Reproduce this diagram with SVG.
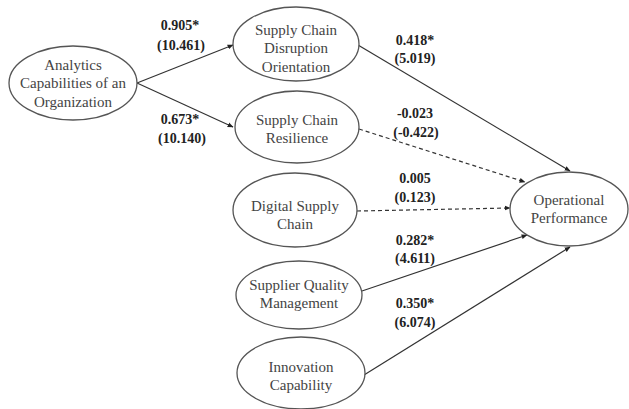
<svg xmlns="http://www.w3.org/2000/svg" width="629" height="409" viewBox="0 0 629 409">
<defs>
<style>
.node ellipse{fill:#fff;stroke:#555;stroke-width:1.3}
.node text{font-family:"Liberation Serif","Times New Roman",serif;font-size:15px;fill:#444;text-anchor:middle}
.edge{stroke:#333;stroke-width:1.2;fill:none;marker-end:url(#ah)}
.dash{stroke-dasharray:4,3}
.lbl{font-family:"Liberation Serif","Times New Roman",serif;font-size:14px;font-weight:bold;fill:#222;text-anchor:middle}
</style>
<marker id="ah" viewBox="0 0 10 10" refX="9" refY="5" markerWidth="6" markerHeight="6" markerUnits="userSpaceOnUse" orient="auto">
<path d="M0,1 L10,5 L0,9 z" fill="#222"/>
</marker>
</defs>
<rect width="629" height="409" fill="#fff"/>
<g id="connectors">
<line class="edge" x1="137" y1="83" x2="233" y2="45"/>
<line class="edge" x1="137" y1="83" x2="233" y2="127"/>
<line class="edge" x1="358" y1="45" x2="570" y2="171"/>
<line class="edge dash" x1="359" y1="129" x2="525" y2="182"/>
<line class="edge dash" x1="357" y1="211" x2="510" y2="208"/>
<line class="edge" x1="362" y1="291" x2="527" y2="235"/>
<line class="edge" x1="364" y1="375" x2="570" y2="247"/>
</g>
<g id="labels">
<text class="lbl" x="180" y="30">0.905*</text>
<text class="lbl" x="181" y="50">(10.461)</text>
<text class="lbl" x="180" y="124">0.673*</text>
<text class="lbl" x="182" y="143">(10.140)</text>
<text class="lbl" x="415" y="45">0.418*</text>
<text class="lbl" x="415" y="63">(5.019)</text>
<text class="lbl" x="415" y="118">-0.023</text>
<text class="lbl" x="416" y="137">(-0.422)</text>
<text class="lbl" x="415" y="183">0.005</text>
<text class="lbl" x="415" y="202">(0.123)</text>
<text class="lbl" x="415" y="245">0.282*</text>
<text class="lbl" x="415" y="263">(4.611)</text>
<text class="lbl" x="415" y="308">0.350*</text>
<text class="lbl" x="415" y="327">(6.074)</text>
</g>
<g id="analytics" class="node">
<ellipse cx="73" cy="83" rx="64" ry="37"/>
<text x="73" y="70">Analytics</text>
<text x="73" y="88">Capabilities of an</text>
<text x="73" y="107">Organization</text>
</g>
<g id="scdo" class="node">
<ellipse cx="296" cy="44" rx="63" ry="37"/>
<text x="296" y="35">Supply Chain</text>
<text x="296" y="53">Disruption</text>
<text x="296" y="72">Orientation</text>
</g>
<g id="scr" class="node">
<ellipse cx="297" cy="127" rx="62" ry="36"/>
<text x="297" y="125">Supply Chain</text>
<text x="297" y="143">Resilience</text>
</g>
<g id="dsc" class="node">
<ellipse cx="295" cy="210" rx="62" ry="37"/>
<text x="295" y="211">Digital Supply</text>
<text x="295" y="229">Chain</text>
</g>
<g id="sqm" class="node">
<ellipse cx="299" cy="295" rx="63" ry="34"/>
<text x="299" y="290">Supplier Quality</text>
<text x="299" y="308">Management</text>
</g>
<g id="ic" class="node">
<ellipse cx="301" cy="373" rx="64" ry="36"/>
<text x="301" y="372">Innovation</text>
<text x="301" y="390">Capability</text>
</g>
<g id="op" class="node">
<ellipse cx="569" cy="209" rx="59" ry="37"/>
<text x="569" y="205">Operational</text>
<text x="569" y="223">Performance</text>
</g>
</svg>
